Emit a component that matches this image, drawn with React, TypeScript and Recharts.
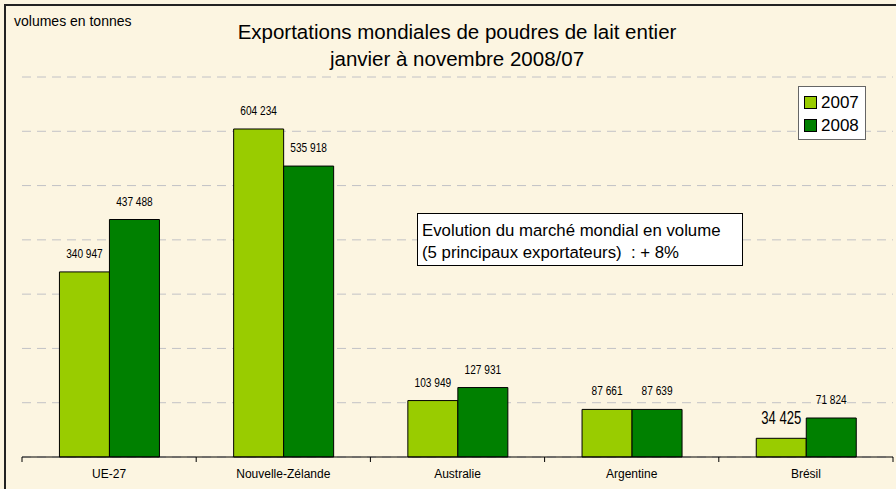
import React from 'react';
import { BarChart, Bar, XAxis, YAxis, CartesianGrid, LabelList } from 'recharts';

// Pays exportateurs et volumes (tonnes)
const pays = ['UE-27', 'Nouvelle-Zélande', 'Australie', 'Argentine', 'Brésil'];
const volumes2007 = [340947, 604234, 103949, 87661, 34425];
const volumes2008 = [437488, 535918, 127931, 87639, 71824];
const yTicks = [0, 100000, 200000, 300000, 400000, 500000, 600000, 700000];

const data = pays.map((p, i) => ({ pays: p, v2007: volumes2007[i], v2008: volumes2008[i] }));

const W = 896;
const H = 489;
const M = { top: 77, left: 22, right: 3, bottom: 2 };
const X_AXIS_H = 30;
const PLOT_BOTTOM = H - M.bottom - X_AXIS_H;
const BAND = (W - M.left - M.right) / pays.length;

const VERT_CLAIR = '#99CC00';
const VERT_FONCE = '#008000';
const FOND = '#FCF5E1';
const ARIAL = '"Liberation Sans", Arial, sans-serif';

const fmt = (n: number) => String(n).replace(/\B(?=(\d{3})+(?!\d))/g, ' ');

const TickPays = (props: any) => {
  const { x, payload, index } = props;
  const half = BAND / 2;
  return (
    <g>
      <line x1={x - half} x2={x - half} y1={PLOT_BOTTOM} y2={PLOT_BOTTOM + 5} stroke="#000" />
      {index === pays.length - 1 && (
        <line x1={x + half} x2={x + half} y1={PLOT_BOTTOM} y2={PLOT_BOTTOM + 5} stroke="#000" />
      )}
      <text x={x} y={PLOT_BOTTOM + 21} textAnchor="middle" fontSize={12} fontFamily={ARIAL} fill="#000">
        {payload.value}
      </text>
    </g>
  );
};

// étiquettes en police étroite (condensée à la main)
const Etiquette = (props: any) => {
  const { x, y, width, value } = props;
  const big = value === 34425;
  return (
    <text
      transform={`translate(${x + width / 2}, ${y - 14}) scale(0.75, 1)`}
      textAnchor="middle"
      fontSize={big ? 17.5 : 13.5}
      fontFamily={ARIAL}
      fill="#000"
    >
      {fmt(value)}
    </text>
  );
};

export default function App() {
  return (
    <div style={{ position: 'fixed', left: 0, top: 0, width: W, height: H, overflow: 'hidden', background: FOND }}>
      <div
        style={{
          position: 'absolute', left: 4, top: 4, width: 920, height: 520,
          border: '2px solid #222', boxSizing: 'border-box',
        }}
      />
      <BarChart
        width={W}
        height={H}
        data={data}
        margin={M}
        barGap={0}
        barCategoryGap="21.5%"
        style={{ position: 'absolute', left: 0, top: 0 }}
      >
        <CartesianGrid vertical={false} stroke="#C2C2C6" strokeDasharray="9 6" />
        <YAxis hide domain={[0, 700000]} ticks={yTicks} />
        <XAxis
          dataKey="pays"
          height={X_AXIS_H}
          stroke="#000"
          tickLine={false}
          tick={<TickPays />}
          interval={0}
        />
        <Bar dataKey="v2007" fill={VERT_CLAIR} stroke="#000" strokeWidth={1} isAnimationActive={false}>
          <LabelList dataKey="v2007" content={<Etiquette />} />
        </Bar>
        <Bar dataKey="v2008" fill={VERT_FONCE} stroke="#000" strokeWidth={1} isAnimationActive={false}>
          <LabelList dataKey="v2008" content={<Etiquette />} />
        </Bar>
      </BarChart>

      <div style={{ position: 'absolute', left: 14, top: 13, fontFamily: ARIAL, fontSize: 14 }}>volumes en tonnes</div>
      <div
        style={{
          position: 'absolute', left: 0, width: 914, top: 18, textAlign: 'center',
          fontFamily: ARIAL, fontSize: 20.5, lineHeight: '27px',
        }}
      >
        Exportations mondiales de poudres de lait entier
        <br />
        janvier à novembre 2008/07
      </div>

      <div
        style={{
          position: 'absolute', left: 798, top: 86, width: 68, height: 54, boxSizing: 'border-box',
          background: '#fff', border: '1px solid #666', fontFamily: ARIAL, fontSize: 17,
        }}
      >
        {[['2007', VERT_CLAIR], ['2008', VERT_FONCE]].map(([label, c], i) => (
          <div key={label} style={{ position: 'absolute', left: 5, top: 7 + i * 23, display: 'flex', alignItems: 'center', lineHeight: '17px' }}>
            <span style={{ width: 11, height: 11, background: c, border: '1px solid #000', marginRight: 4 }} />
            {label}
          </div>
        ))}
      </div>

      <div
        style={{
          position: 'absolute', left: 417, top: 213, width: 326, height: 53, boxSizing: 'border-box',
          background: '#fff', border: '1px solid #000', fontFamily: ARIAL, fontSize: 16.8,
          lineHeight: '22px', padding: '6px 0 0 4px', whiteSpace: 'pre',
        }}
      >
        {'Evolution du marché mondial en volume\n(5 principaux exportateurs)  : + 8%'}
      </div>
    </div>
  );
}
